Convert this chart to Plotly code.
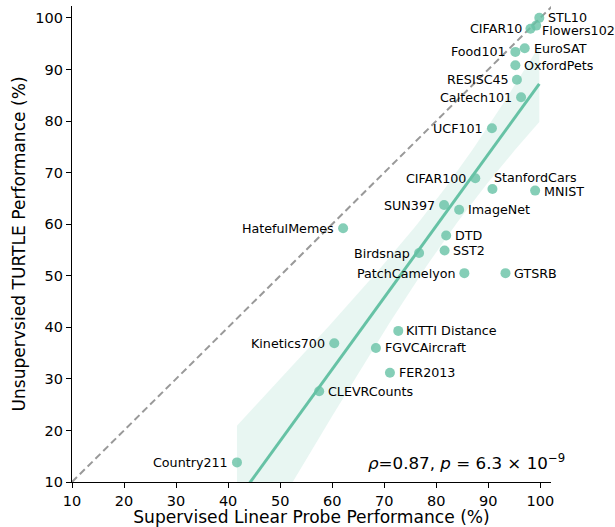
import numpy as np
import plotly.graph_objects as go

# ---- data ----
datasets = ["STL10", "Flowers102", "CIFAR10", "Food101", "EuroSAT", "OxfordPets",
            "RESISC45", "Caltech101", "UCF101", "CIFAR100", "StanfordCars", "MNIST",
            "SUN397", "ImageNet", "HatefulMemes", "DTD", "Birdsnap", "SST2",
            "PatchCamelyon", "GTSRB", "KITTI Distance", "Kinetics700", "FGVCAircraft",
            "FER2013", "CLEVRCounts", "Country211"]
linear_probe = [99.8, 99.2, 98.1, 95.2, 97.0, 95.2,
                95.5, 96.3, 90.7, 87.5, 90.8, 99.0,
                81.5, 84.4, 62.1, 81.9, 76.7, 81.6,
                85.4, 93.3, 72.7, 60.4, 68.4,
                71.1, 57.5, 41.7]
turtle = [100.0, 98.5, 97.9, 93.4, 94.1, 90.8,
          88.0, 84.6, 78.6, 68.9, 66.8, 66.5,
          63.7, 62.8, 59.2, 57.8, 54.4, 54.9,
          50.5, 50.5, 39.3, 36.9, 36.0,
          31.2, 27.6, 13.8]
stat_text = "<i>ρ</i>=0.87, <i>p</i> = 6.3 × 10<sup>−9</sup>"

# ---- label placement (pixel offsets, side) ----
label_side = {
    "STL10": ("left", 7, 0), "Flowers102": ("left", 4, -5), "CIFAR10": ("right", -6, 0),
    "Food101": ("right", -7, 0), "EuroSAT": ("left", 7, 0), "OxfordPets": ("left", 7, 0),
    "RESISC45": ("right", -6, 0), "Caltech101": ("right", -7, 0), "UCF101": ("right", -7, 0),
    "CIFAR100": ("right", -7, 0), "StanfordCars": ("left", 0, 12), "MNIST": ("left", 7, -1),
    "SUN397": ("right", -7, 0), "ImageNet": ("left", 7, 0), "HatefulMemes": ("right", -7, 0),
    "DTD": ("left", 7, 0), "Birdsnap": ("right", -7, 0), "SST2": ("left", 6, 0),
    "PatchCamelyon": ("right", -7, 0), "GTSRB": ("left", 7, 0), "KITTI Distance": ("left", 6, 0),
    "Kinetics700": ("right", -7, 0), "FGVCAircraft": ("left", 7, 0), "FER2013": ("left", 7, 0),
    "CLEVRCounts": ("left", 7, 0), "Country211": ("right", -7, 0),
}

GREEN = "#66c2a5"
FONT = "DejaVu Sans"

# ---- OLS fit with 95% confidence band for the mean ----
x = np.array(linear_probe)
y = np.array(turtle)
n = len(x)
slope, intercept = np.polyfit(x, y, 1)
xs = np.linspace(x.min(), x.max(), 100)
yhat = intercept + slope * xs
resid = y - (intercept + slope * x)
s = np.sqrt(np.sum(resid ** 2) / (n - 2))
sxx = np.sum((x - x.mean()) ** 2)
tval = 2.064
half = tval * s * np.sqrt(1.0 / n + (xs - x.mean()) ** 2 / sxx)

fig = go.Figure()
fig.add_trace(go.Scatter(x=[10, 102.3], y=[10, 102.3], mode="lines",
                         line=dict(color="#999999", width=2, dash="7px,4px"),
                         hoverinfo="skip", showlegend=False))
fig.add_trace(go.Scatter(x=xs, y=yhat - half, mode="lines", line=dict(width=0),
                         hoverinfo="skip", showlegend=False))
fig.add_trace(go.Scatter(x=xs, y=yhat + half, mode="lines", line=dict(width=0),
                         fill="tonexty", fillcolor="rgba(102,194,165,0.15)",
                         hoverinfo="skip", showlegend=False))
fig.add_trace(go.Scatter(x=xs, y=yhat, mode="lines", line=dict(color=GREEN, width=3),
                         hoverinfo="skip", showlegend=False))
fig.add_trace(go.Scatter(x=x, y=y, mode="markers",
                         marker=dict(color="rgba(102,194,165,0.8)", size=10, line=dict(width=0)),
                         text=datasets, showlegend=False))

for name, xv, yv in zip(datasets, linear_probe, turtle):
    side, dx, dy = label_side[name]
    fig.add_annotation(x=xv, y=yv, text=name, showarrow=False,
                       xanchor=side, yanchor="middle", xshift=dx, yshift=dy,
                       font=dict(family=FONT, size=12.7, color="black"))

fig.add_annotation(x=1.033, y=0.043, xref="paper", yref="paper", text=stat_text,
                   showarrow=False, xanchor="right", yanchor="middle",
                   font=dict(family=FONT, size=16.7, color="black"))

axis_common = dict(showgrid=False, zeroline=False, showline=True, linecolor="black",
                   linewidth=1.2, ticks="outside", ticklen=5, tickwidth=1.2,
                   tickcolor="black", tickfont=dict(family=FONT, size=14.5, color="black"),
                   dtick=10, tick0=10, automargin=False)
fig.update_xaxes(range=[10, 102.05], title=dict(text="Supervised Linear Probe Performance (%)",
                 font=dict(family=FONT, size=17.1, color="black"), standoff=4), **axis_common)
fig.update_yaxes(range=[10, 102.3], title=dict(text="Unsupervsied TURTLE Performance (%)",
                 font=dict(family=FONT, size=17.1, color="black"), standoff=5), **axis_common)

fig.update_layout(width=615, height=527, plot_bgcolor="white", paper_bgcolor="white",
                  margin=dict(l=72, r=64, t=6, b=45), showlegend=False,
                  font=dict(family=FONT))

fig.write_html("out.html")
